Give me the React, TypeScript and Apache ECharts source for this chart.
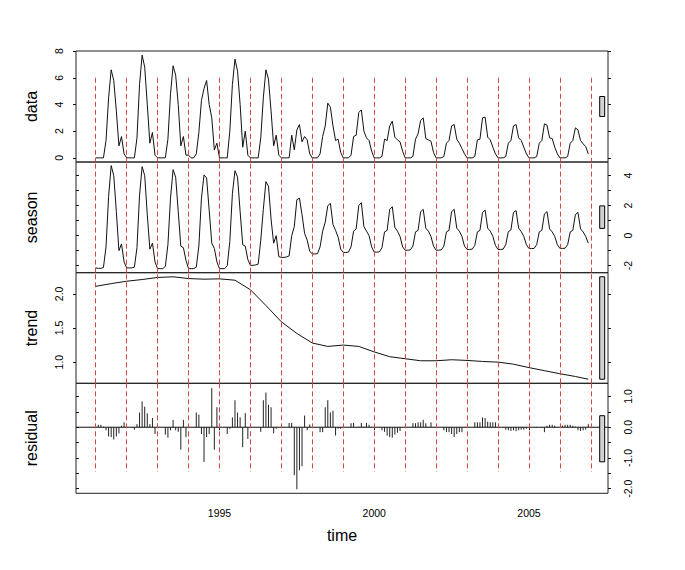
import React, { useEffect, useRef } from "react";
import * as echarts from "echarts";

// ---------- data (monthly, Jan 1991 .. Dec 2006) ----------
const START_YEAR = 1991;
const FREQ = 12;

const years = [1991, 1992, 1993, 1994, 1995, 1996, 1997, 1998, 1999, 2000, 2001, 2002, 2003, 2004, 2005, 2006, 2007];
const xTickYears = [1995, 2000, 2005];

const dataValues = [
  0, 0, 0, 0, 1.3, 4.5, 6.6, 5.8, 3.5, 0.9, 1.6, 0.3,
  0, 0, 0, 0, 1.5, 5.5, 7.7, 6.8, 4.0, 1.1, 1.9, 0.2,
  0, 0, 0, 0, 1.4, 4.8, 6.9, 6.2, 4.0, 0.9, 1.6, 0.2,
  0.2, 0, 0, 0.3, 1.9, 4.3, 5.2, 5.8, 4.0, 3.0, 0.6, 1.1,
  0, 0, 0, 0, 2.0, 5.5, 7.4, 6.5, 4.0, 0.8, 2.0, 0.2,
  0, 0, 0, 0, 1.5, 4.5, 6.6, 5.9, 3.5, 0.9, 1.7, 0.2,
  0, 0, 0, 0, 1.7, 0.6, 2.1, 2.5, 1.2, 1.6, 1.35, 0.3,
  0, 0, 0, 0.3, 1.6, 2.4, 4.1, 3.8, 2.4, 1.3, 1.4, 0.4,
  0, 0, 0, 0.2, 1.6, 1.7, 3.4, 3.6, 2.0, 1.5, 1.3, 0.5,
  0, 0, 0, 0.1, 1.4, 1.3, 2.4, 2.75, 1.55, 1.35, 1.2, 0.5,
  0, 0, 0, 0.1, 1.4, 1.8, 2.8, 3.0, 1.45, 1.35, 1.25, 0.4,
  0, 0, 0, 0.1, 1.1, 1.3, 2.4, 2.5, 1.4, 1.1, 0.7, 0.3,
  0, 0, 0, 0.1, 1.35, 1.4, 3.0, 3.05, 1.55, 1.35, 0.8, 0.3,
  0, 0, 0, 0.1, 1.1, 1.3, 2.4, 2.5, 1.5, 1.3, 0.8, 0.3,
  0, 0, 0, 0.1, 1.1, 1.3, 2.55, 2.45, 1.5, 1.45, 0.8, 0.3,
  0, 0, 0, 0.1, 1.1, 1.3, 2.25, 2.1, 1.3, 1.05, 0.85, 0.3,
];

const seasonValues = [
  -2.15, -2.18, -2.18, -2.12, -0.75, 2.6, 4.67, 4.0, 1.6, -1.0, -0.55, -1.75,
  -2.15, -2.15, -2.15, -2.1, -0.8, 2.7, 4.6, 4.0, 1.4, -0.9, -0.5, -1.75,
  -2.2, -2.2, -2.2, -2.05, -0.6, 2.5, 4.4, 3.9, 1.6, -0.7, -0.8, -1.65,
  -2.2, -2.2, -2.2, -2.1, -0.7, 2.5, 4.05, 3.85, 1.7, -0.5, -0.85, -1.75,
  -2.2, -2.2, -2.2, -2.0, -0.4, 2.8, 4.33, 3.9, 1.6, -0.6, -0.7, -1.6,
  -1.98, -1.98, -1.95, -1.9, -0.3, 1.75, 3.6, 3.3, 1.1, -0.5, 0.0, -1.4,
  -1.45, -1.45, -1.42, -1.35, 0.0, 0.6, 2.4, 2.5, 1.4, 0.15, -0.3, -1.05,
  -1.22, -1.22, -1.2, -0.75, 0.3, 0.9, 2.0, 2.15, 0.75, 0.35, -0.1, -0.9,
  -1.12, -1.12, -1.1, -0.75, 0.3, 0.45, 2.0, 2.2, 0.6, 0.3, 0.0, -0.75,
  -1.1, -1.1, -1.08, -0.8, 0.25, 0.35, 1.75, 1.93, 0.55, 0.3, -0.05, -0.75,
  -0.97, -0.97, -0.95, -0.7, 0.25, 0.35, 1.6, 1.75, 0.5, 0.3, -0.05, -0.7,
  -0.97, -0.97, -0.95, -0.7, 0.25, 0.35, 1.6, 1.75, 0.5, 0.3, -0.05, -0.7,
  -0.92, -0.92, -0.9, -0.65, 0.25, 0.35, 1.55, 1.7, 0.5, 0.3, -0.05, -0.65,
  -0.92, -0.92, -0.9, -0.6, 0.27, 0.38, 1.55, 1.67, 0.5, 0.27, -0.05, -0.6,
  -0.86, -0.86, -0.85, -0.6, 0.25, 0.35, 1.45, 1.6, 0.45, 0.25, -0.05, -0.6,
  -0.85, -0.85, -0.84, -0.6, 0.25, 0.35, 1.4, 1.55, 0.45, 0.25, -0.05, -0.5,
];

const trendTimes = [
  1991, 1991.5, 1992, 1992.5, 1993, 1993.5, 1994, 1994.5, 1995, 1995.5, 1996, 1996.5,
  1997, 1997.5, 1998, 1998.5, 1999, 1999.5, 2000, 2000.5, 2001, 2001.5, 2002, 2002.5,
  2003, 2003.5, 2004, 2004.5, 2005, 2005.5, 2006, 2006.5, 2006.917,
];
const trendValues = [
  2.11, 2.15, 2.185, 2.21, 2.24, 2.25, 2.224, 2.215, 2.22, 2.2, 2.06, 1.83,
  1.59, 1.42, 1.28, 1.23, 1.25, 1.23, 1.15, 1.08, 1.05, 1.02, 1.02, 1.035,
  1.025, 1.01, 1.0, 0.97, 0.92, 0.875, 0.83, 0.79, 0.75,
];

const residualValues = [
  0.03, 0.08, 0.08, 0.02, -0.1, -0.3, -0.32, -0.4, -0.3, -0.2, 0.05, 0.16,
  0, 0, 0, -0.08, 0.1, 0.48, 0.84, 0.67, 0.45, 0.1, 0.3, -0.22,
  0, 0, 0, -0.24, -0.34, -0.1, 0.24, -0.1, -0.15, -0.73, 0.24, -0.32,
  0, 0, 0, 0.48, 0.41, -0.22, -1.13, -0.32, -0.22, 1.27, -0.73, 0.65,
  0, 0, 0, -0.22, -0.05, 0.32, 0.88, 0.48, 0.32, -0.65, 0.46, -0.38,
  0, 0, 0, 0, -0.15, 0.88, 1.13, 0.73, 0.65, -0.2, -0.05, 0,
  0, 0, 0, 0.14, 0.14, -1.56, -2.02, -1.4, -1.27, 0.38, -0.1, 0.09,
  0, 0, 0, -0.16, -0.16, 0.65, 0.88, 0.48, 0.54, -0.27, -0.05, -0.05,
  0, 0, 0, 0.13, 0.14, -0.02, 0.02, 0.14, 0.02, 0.14, 0.08, 0.01,
  0, 0, 0, -0.1, -0.15, -0.27, -0.32, -0.34, -0.24, -0.18, -0.12, -0.01,
  0, 0, 0, 0.13, 0.13, 0.16, 0.16, 0.24, 0.13, 0.01, 0.16, 0.01,
  0, 0, 0, -0.1, -0.16, -0.16, -0.22, -0.32, -0.22, -0.16, -0.16, -0.01,
  0, 0, 0, 0.16, 0.16, 0.16, 0.32, 0.3, 0.18, 0.16, 0.16, 0.16,
  0, 0, 0, -0.08, -0.1, -0.12, -0.1, -0.13, -0.1, -0.08, -0.08, -0.05,
  0, 0, 0, -0.02, 0, -0.02, -0.16, 0.05, 0.08, 0.08, 0.05, 0.01,
  0, 0.05, 0.08, 0.08, 0.08, 0.05, 0.02, -0.1, -0.12, -0.1, -0.08, 0.1,
];

// tick values
const dataTicks = [0, 2, 4, 6, 8];
const seasonTicks = [-2, -1, 0, 1, 2, 3, 4];
const seasonLabels = [-2, 0, 2, 4];
const trendTicks = [1.0, 1.5, 2.0];
const residualTicks = [-2, -1.5, -1, -0.5, 0, 0.5, 1];
const residualLabels = [-2, -1, 0, 1];

// reference-line limits (dashed year markers)
const MARK_TOP = 6;
const MARK_BOTTOM = -1.45;

// ---------- layout / style ----------
const X_MIN = 1990.363;
const X_MAX = 2007.554;
const LEFT = 76;
const WIDTH = 532;
const FONT = "'Liberation Sans', Arial, Helvetica, sans-serif";
const RED = "#d64545";
const INK = "#111";

const timeOf = (i: number) => START_YEAR + i / FREQ;

export default function App() {
  const ref = useRef<HTMLDivElement>(null);

  useEffect(() => {
    if (!ref.current) return;
    const chart = echarts.init(ref.current, undefined, { renderer: "svg" });

    const panels = [
      { name: "data", top: 51, height: 111, min: -0.31, max: 8.01, values: dataValues },
      { name: "season", top: 162, height: 110.7, min: -2.47, max: 4.91, values: seasonValues },
      { name: "trend", top: 272.7, height: 110.6, min: 0.69, max: 2.31, values: trendValues },
      { name: "residual", top: 383.3, height: 110, min: -2.15, max: 1.43, values: residualValues },
    ];

    const ranges = panels.map((p) => [Math.min(...p.values), Math.max(...p.values)]);
    const mx = Math.min(...ranges.map((r) => r[1] - r[0]));

    const tickStyle = { lineStyle: { color: INK, width: 1 } };
    const labelBase = { rotate: 90, fontSize: 10.5, color: "#000", fontFamily: FONT };

    const yAxis: any[] = [];
    // data
    yAxis.push({
      gridIndex: 0, type: "value", position: "left", min: panels[0].min, max: panels[0].max,
      axisLine: { show: false }, splitLine: { show: false },
      axisTick: { show: true, length: 3, customValues: dataTicks, ...tickStyle },
      axisLabel: { ...labelBase, margin: 12, customValues: dataTicks, formatter: (v: number) => String(v) },
    });
    yAxis.push({
      gridIndex: 0, type: "value", position: "right", min: panels[0].min, max: panels[0].max,
      axisLine: { show: false }, splitLine: { show: false },
      axisTick: { show: true, length: 3, customValues: dataTicks, ...tickStyle },
      axisLabel: { show: false },
    });
    // season
    yAxis.push({
      gridIndex: 1, type: "value", position: "left", min: panels[1].min, max: panels[1].max,
      axisLine: { show: false }, splitLine: { show: false },
      axisTick: { show: true, inside: true, length: 3, customValues: seasonTicks, ...tickStyle },
      axisLabel: { show: false },
    });
    yAxis.push({
      gridIndex: 1, type: "value", position: "right", min: panels[1].min, max: panels[1].max,
      axisLine: { show: false }, splitLine: { show: false },
      axisTick: { show: true, length: 3, customValues: seasonTicks, ...tickStyle },
      axisLabel: { ...labelBase, margin: 14, customValues: seasonLabels, formatter: (v: number) => String(v) },
    });
    // trend
    yAxis.push({
      gridIndex: 2, type: "value", position: "left", min: panels[2].min, max: panels[2].max,
      axisLine: { show: false }, splitLine: { show: false },
      axisTick: { show: true, length: 3, customValues: trendTicks, ...tickStyle },
      axisLabel: { ...labelBase, margin: 12, customValues: trendTicks, formatter: (v: number) => v.toFixed(1) },
    });
    yAxis.push({
      gridIndex: 2, type: "value", position: "right", min: panels[2].min, max: panels[2].max,
      axisLine: { show: false }, splitLine: { show: false },
      axisTick: { show: true, length: 3, customValues: trendTicks, ...tickStyle },
      axisLabel: { show: false },
    });
    // residual
    yAxis.push({
      gridIndex: 3, type: "value", position: "left", min: panels[3].min, max: panels[3].max,
      axisLine: { show: false }, splitLine: { show: false },
      axisTick: { show: true, inside: true, length: 3, customValues: residualTicks, ...tickStyle },
      axisLabel: { show: false },
    });
    yAxis.push({
      gridIndex: 3, type: "value", position: "right", min: panels[3].min, max: panels[3].max,
      axisLine: { show: false }, splitLine: { show: false },
      axisTick: { show: true, length: 3, customValues: residualTicks, ...tickStyle },
      axisLabel: { ...labelBase, margin: 14, customValues: residualLabels, formatter: (v: number) => v.toFixed(1) },
    });

    const xAxis: any[] = panels.map((_, i) => {
      const last = i === panels.length - 1;
      return {
        gridIndex: i, type: "value", min: X_MIN, max: X_MAX,
        axisLine: { show: false }, splitLine: { show: false },
        axisTick: last ? { show: true, length: 3, customValues: xTickYears, ...tickStyle } : { show: false },
        axisLabel: last
          ? { show: true, margin: 14, fontSize: 10.5, color: "#000", fontFamily: FONT, customValues: xTickYears, formatter: (v: number) => String(v) }
          : { show: false },
        name: last ? "time" : "",
        nameLocation: "middle",
        nameGap: 34,
        nameTextStyle: { fontSize: 16, color: "#000", fontFamily: FONT },
      };
    });

    const dashStyle = { color: RED, width: 1, type: [5, 3] as any };
    const markBase = { silent: true, symbol: ["none", "none"], label: { show: false }, lineStyle: dashStyle, animation: false };

    const rangeBar = (gi: number, yi: number) => ({
      type: "custom",
      xAxisIndex: gi,
      yAxisIndex: yi,
      silent: true,
      z: 5,
      data: [[(ranges[gi][0] + ranges[gi][1]) / 2 - mx / 2, (ranges[gi][0] + ranges[gi][1]) / 2 + mx / 2]],
      renderItem: (_p: any, api: any) => {
        const lo = api.value(0);
        const hi = api.value(1);
        const dx = (X_MAX - X_MIN) / 64;
        const a = api.coord([X_MAX - dx, hi]);
        const b = api.coord([X_MAX - 0.4 * dx, lo]);
        return {
          type: "rect",
          shape: { x: a[0], y: a[1], width: b[0] - a[0], height: b[1] - a[1] },
          style: { fill: "#d3d3d3", stroke: "#000", lineWidth: 1 },
        };
      },
    });

    const series: any[] = [
      {
        type: "line", xAxisIndex: 0, yAxisIndex: 0, symbol: "none", silent: true,
        lineStyle: { color: INK, width: 1 },
        data: dataValues.map((v, i) => [timeOf(i), v]),
        markLine: { ...markBase, data: years.map((y) => [{ coord: [y, MARK_TOP] }, { coord: [y, panels[0].min] }]) },
      },
      {
        type: "line", xAxisIndex: 1, yAxisIndex: 2, symbol: "none", silent: true,
        lineStyle: { color: INK, width: 1 },
        data: seasonValues.map((v, i) => [timeOf(i), v]),
        markLine: { ...markBase, data: years.map((y) => ({ xAxis: y })) },
      },
      {
        type: "line", xAxisIndex: 2, yAxisIndex: 4, symbol: "none", silent: true,
        lineStyle: { color: INK, width: 1 },
        data: trendValues.map((v, i) => [trendTimes[i], v]),
        markLine: { ...markBase, data: years.map((y) => ({ xAxis: y })) },
      },
      {
        type: "custom", xAxisIndex: 3, yAxisIndex: 6, silent: true,
        data: residualValues.map((v, i) => [timeOf(i), v]),
        renderItem: (_p: any, api: any) => {
          const t = api.value(0);
          const v = api.value(1);
          const p0 = api.coord([t, 0]);
          const p1 = api.coord([t, v]);
          return {
            type: "line",
            shape: { x1: p0[0], y1: p0[1], x2: p1[0], y2: p1[1] },
            style: { stroke: "#222", lineWidth: 1 },
          };
        },
      },
      {
        type: "line", xAxisIndex: 3, yAxisIndex: 6, symbol: "none", silent: true,
        lineStyle: { color: INK, width: 1 },
        data: [[X_MIN, 0], [X_MAX, 0]],
        markLine: { ...markBase, data: years.map((y) => [{ coord: [y, panels[3].max] }, { coord: [y, MARK_BOTTOM] }]) },
      },
      rangeBar(0, 0),
      rangeBar(1, 2),
      rangeBar(2, 4),
      rangeBar(3, 6),
    ];

    chart.setOption({
      animation: false,
      textStyle: { fontFamily: FONT },
      grid: panels.map((p) => ({
        left: LEFT, width: WIDTH, top: p.top, height: p.height,
        show: true, borderColor: "#222", borderWidth: 1, backgroundColor: "transparent",
      })),
      xAxis,
      yAxis,
      series,
      graphic: panels.map((p) => ({
        type: "text",
        x: 31,
        y: p.top + p.height / 2,
        rotation: Math.PI / 2,
        style: {
          text: p.name,
          font: `16px ${FONT}`,
          fill: "#000",
          align: "center",
          verticalAlign: "middle",
          textAlign: "center",
          textVerticalAlign: "middle",
        },
      })),
    });

    return () => chart.dispose();
  }, []);

  return (
    <div
      ref={ref}
      style={{ position: "fixed", left: 0, top: 0, width: 685, height: 570, background: "#fff" }}
    />
  );
}
